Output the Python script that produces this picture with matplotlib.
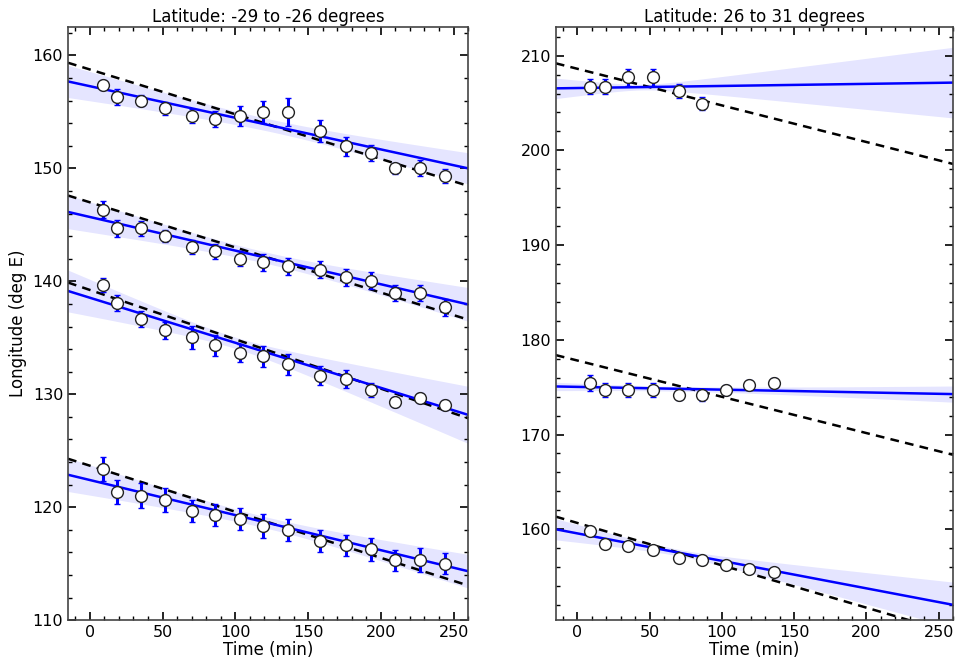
import numpy as np
import matplotlib.pyplot as plt
from matplotlib.ticker import MultipleLocator

# observation times (min)
t_south = [9, 19, 35, 52, 70, 86, 103, 119, 136, 158, 176, 193, 210, 227, 244]
t_north = [9, 19, 35, 52, 70, 86, 103, 119, 136]

# left panel: latitude -29 to -26
lon_s1 = [157.37, 156.34, 155.99, 155.31, 154.66, 154.34, 154.66, 155.0, 155.0,
          153.3, 151.97, 151.33, 150.0, 150.03, 149.35]
err_s1 = [0.45, 0.7, 0.5, 0.6, 0.62, 0.7, 0.9, 1.0, 1.24, 1.0, 0.83, 0.7, 0.5, 0.7, 0.6]
lon_s2 = [146.36, 144.68, 144.68, 143.99, 143.02, 142.66, 141.99, 141.69, 141.33,
          141.04, 140.35, 140.06, 138.97, 138.97, 137.69]
err_s2 = [0.74, 0.71, 0.7, 0.52, 0.6, 0.66, 0.66, 0.74, 0.77, 0.77, 0.77, 0.74, 0.74, 0.7, 0.78]
lon_s3 = [139.68, 138.08, 136.66, 135.65, 135.03, 134.32, 133.67, 133.35, 132.67,
          131.66, 131.34, 130.39, 129.35, 129.65, 129.03]
err_s3 = [0.66, 0.74, 0.71, 0.74, 1.03, 0.89, 0.77, 0.96, 0.93, 0.86, 0.81, 0.6, 0.45, 0.45, 0.45]
lon_s4 = [123.39, 121.34, 121.01, 120.65, 119.7, 119.31, 118.96, 118.33, 117.97,
          117.02, 116.63, 116.28, 115.29, 115.32, 115.0]
err_s4 = [1.07, 1.09, 1.1, 1.09, 0.97, 1.0, 1.0, 1.03, 0.95, 0.95, 0.95, 1.0, 0.94, 1.04, 0.94]

# right panel: latitude 26 to 31
lon_n1 = [206.73, 206.73, 207.71, 207.71, 206.23, 204.94]
err_n1 = [0.83, 0.77, 0.88, 0.88, 0.74, 0.67]
lon_n2 = [175.43, 174.69, 174.69, 174.69, 174.19, 174.19, 174.69, 175.22, 175.43]
err_n2 = [0.83, 0.76, 0.74, 0.74, 0.5, 0.62, 0.55, 0.55, 0.5]
lon_n3 = [159.82, 158.48, 158.24, 157.78, 157.0, 156.76, 156.23, 155.81, 155.52]
err_n3 = [0.3, 0.45, 0.3, 0.3, 0.45, 0.45, 0.3, 0.3, 0.3]

# fitted line: intercept, slope, band centre time, band min half width, slope error
fit_s = [(157.28, -0.02799, 125, 0.55, 0.0094),
         (145.70, -0.02978, 122, 0.5, 0.0102),
         (138.55, -0.03989, 100, 0.5, 0.0155),
         (122.41, -0.03106, 122, 0.5, 0.0102)]
fit_n = [(206.58, 0.0022, 45, 0.3, 0.0173),
         (175.03, -0.00293, 70, 0.25, 0.0043),
         (159.56, -0.0290, 70, 0.35, 0.0125)]
# dashed model line: intercept, slope
model_s = [(158.76, -0.03963), (147.0, -0.03996), (139.24, -0.0437), (123.68, -0.0408)]
model_n = [(208.61, -0.03864), (177.81, -0.03828), (160.66, -0.0447)]

data_s = [(lon_s1, err_s1), (lon_s2, err_s2), (lon_s3, err_s3), (lon_s4, err_s4)]
data_n = [(lon_n1, err_n1), (lon_n2, err_n2), (lon_n3, err_n3)]

plt.rcParams['font.family'] = 'DejaVu Sans'
fig = plt.figure(figsize=(9.55, 6.64), dpi=100)
ax1 = fig.add_axes([0.0712, 0.066, 0.419, 0.893])
ax2 = fig.add_axes([0.582, 0.066, 0.416, 0.893])

tt = np.linspace(-15, 260, 200)


def draw(ax, times, data, fits, models):
    for (lon, err), (b0, b1, tc, a, sb), (m0, m1) in zip(data, fits, models):
        yfit = b0 + b1 * tt
        hw = np.sqrt(a ** 2 + (sb * (tt - tc)) ** 2)
        ax.fill_between(tt, yfit - hw, yfit + hw, color='#0000ff', alpha=0.1, lw=0)
        ax.plot(tt, m0 + m1 * tt, color='black', ls=(0, (3.5, 2.5)), lw=1.8)
        ax.plot(tt, yfit, color='#0000ff', lw=1.8)
        ax.errorbar(times[:len(lon)], lon, yerr=err, fmt='o', ms=8.5,
                    mfc='white', mec='#222222', mew=1.0, ecolor='#0000ff',
                    elinewidth=2.2, capsize=2, capthick=1.5, zorder=5)
    ax.set_xlim(-15, 260)
    ax.xaxis.set_major_locator(MultipleLocator(50))
    ax.xaxis.set_minor_locator(MultipleLocator(10))
    ax.yaxis.set_major_locator(MultipleLocator(10))
    ax.yaxis.set_minor_locator(MultipleLocator(2))
    ax.tick_params(which='both', direction='in', top=True, right=True, labelsize=11.5)
    ax.tick_params(which='major', length=6, width=1.2)
    ax.tick_params(which='minor', length=3, width=1.0)
    for sp in ax.spines.values():
        sp.set_color('#444444')
        sp.set_linewidth(1.2)
    ax.set_xlabel('Time (min)', fontsize=12, labelpad=1)


draw(ax1, t_south, data_s, fit_s, model_s)
draw(ax2, t_north, data_n, fit_n, model_n)

ax1.set_ylim(110, 162.5)
ax2.set_ylim(150.4, 213)
ax1.set_ylabel('Longitude (deg E)', fontsize=12)
ax1.set_title('Latitude: -29 to -26 degrees', fontsize=12, pad=4)
ax2.set_title('Latitude: 26 to 31 degrees', fontsize=12, pad=4)

fig.savefig('out.png', dpi=100)
